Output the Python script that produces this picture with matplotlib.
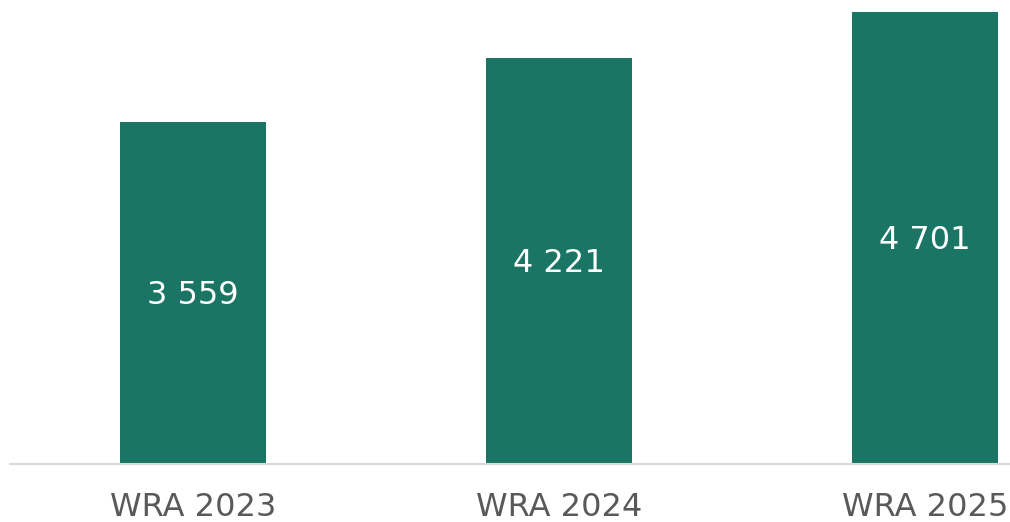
import matplotlib
matplotlib.use("Agg")
import matplotlib.pyplot as plt

# data
categories = ["WRA 2023", "WRA 2024", "WRA 2025"]
values = [3559, 4221, 4701]
value_labels = ["3 559", "4 221", "4 701"]

bar_color = "#1b7565"
text_color = "#595959"

fig = plt.figure(figsize=(10.10, 5.22), dpi=100)
ax = fig.add_axes([10 / 1010, 58 / 522, 1000 / 1010, 464 / 522])

x = list(range(len(categories)))
ax.bar(x, values, width=0.4, color=bar_color)

for xi, v, lab in zip(x, values, value_labels):
    ax.annotate(lab, (xi, v / 2), xytext=(0, -3), textcoords="offset pixels",
                ha="center", va="center", color="white", fontsize=23)

ax.set_xlim(-0.5, 2.232)
ax.set_ylim(0, 4823)
ax.set_xticks(x)
ax.set_xticklabels(categories, fontsize=23, color=text_color)
ax.tick_params(axis="x", length=0, pad=20)
ax.set_yticks([])

for side in ["top", "right", "left"]:
    ax.spines[side].set_visible(False)
ax.spines["bottom"].set_color("#d9d9d9")
ax.spines["bottom"].set_linewidth(1.5)

fig.savefig("out.png", dpi=100)
